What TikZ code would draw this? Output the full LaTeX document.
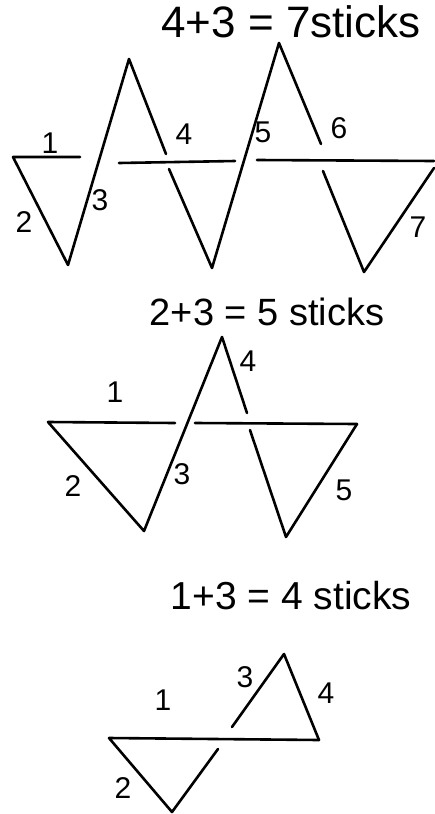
\documentclass[tikz,border=0pt]{standalone}
\usepackage{fontspec}
\setmainfont{Liberation Sans}
\begin{document}
\begin{tikzpicture}[x=1pt,y=-1pt,
  stick/.style={line width=2.6pt, line cap=round, line join=round},
  lab/.style={font=\fontsize{30}{30}\selectfont, inner sep=0pt},
  ttl/.style={font=\fontsize{44}{46}\selectfont, inner sep=0pt}]
\useasboundingbox[fill=white] (0,0) rectangle (435,814);
% ---------- top ----------
\coordinate (A1) at (13,157);  \coordinate (A2) at (80,157);
\coordinate (A3) at (68,265);  \coordinate (A4) at (129,59);
\coordinate (A5) at (166,154); \coordinate (A6) at (119,163);
\coordinate (A7) at (235,161); \coordinate (A8) at (169,169);
\coordinate (A9) at (212,268); \coordinate (A10) at (279,43);
\coordinate (A11) at (321,144);\coordinate (A12) at (257,160);
\coordinate (A13) at (434,161);\coordinate (A14) at (323,171);
\coordinate (A15) at (364,272);\coordinate (A16) at (434,168);
\draw[stick] (A2) -- (A1) -- (A3) -- (A4) -- (A5);
\draw[stick] (A6) -- (A7);
\draw[stick] (A8) -- (A9) -- (A10) -- (A11);
\draw[stick] (A12) -- (A13);
\draw[stick] (A14) -- (A15) -- (A16);
\node[ttl] (t1) at (291,22) {4+3 = 7sticks};
\node[lab] (a1) at (50,143) {1};
\node[lab] (a2) at (24,222) {2};
\node[lab] (a3) at (100,200) {3};
\node[lab] (a4) at (184,134) {4};
\node[lab] (a5) at (263,132) {5};
\node[lab] (a6) at (339,128) {6};
\node[lab] (a7) at (418,227) {7};
% ---------- middle ----------
\coordinate (B1) at (48,422);  \coordinate (B2) at (175,423);
\coordinate (B3) at (144,531); \coordinate (B4) at (222,337);
\coordinate (B5) at (247,413); \coordinate (B6) at (195,423);
\coordinate (B7) at (357,424); \coordinate (B8) at (250,430);
\coordinate (B9) at (286,537);
\draw[stick] (B2) -- (B1) -- (B3) -- (B4) -- (B5);
\draw[stick] (B6) -- (B7);
\draw[stick] (B8) -- (B9) -- (B7);
\node[ttl, font=\fontsize{38}{40}\selectfont] (t2) at (267,312) {2+3 = 5 sticks};
\node[lab] (b1) at (115,392) {1};
\node[lab] (b2) at (73,486) {2};
\node[lab] (b3) at (182,474) {3};
\node[lab] (b4) at (248,361) {4};
\node[lab] (b5) at (344,490) {5};
% ---------- bottom ----------
\coordinate (C1) at (109,738); \coordinate (C2) at (319,740);
\coordinate (C3) at (172,812); \coordinate (C4) at (218,749);
\coordinate (C5) at (232,727); \coordinate (C6) at (284,654);
\draw[stick] (C2) -- (C1) -- (C3) -- (C4);
\draw[stick] (C5) -- (C6) -- (C2);
\node[ttl, font=\fontsize{39}{40}\selectfont] (t3) at (291,596) {1+3 = 4 sticks};
\node[lab] (c1) at (163,700) {1};
\node[lab] (c2) at (123,788) {2};
\node[lab] (c3) at (245,677) {3};
\node[lab] (c4) at (326,693) {4};
\end{tikzpicture}
\end{document}
